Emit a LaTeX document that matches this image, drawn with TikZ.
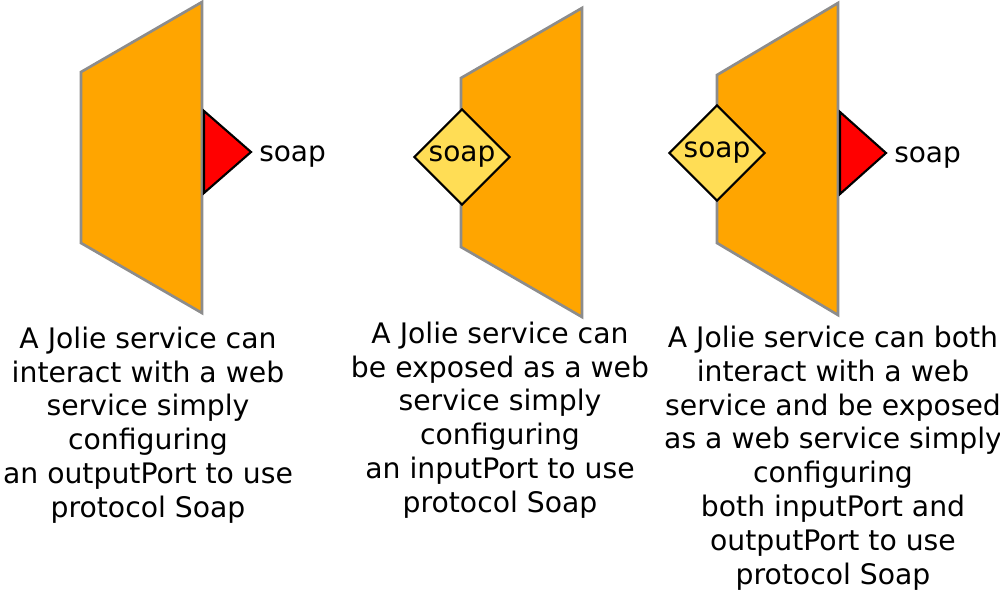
\documentclass[tikz,border=0pt]{standalone}
\usepackage{fontspec}
\setmainfont{DejaVu Sans}
\usetikzlibrary{shapes.geometric}
\definecolor{svc}{HTML}{FFA500}
\definecolor{svcline}{HTML}{8C8C8C}
\definecolor{inport}{HTML}{FFDD55}
\definecolor{outport}{HTML}{FF0000}
\begin{document}
\begin{tikzpicture}[x=0.75pt,y=-0.75pt,
  service/.style={fill=svc,draw=svcline,line width=2pt,line join=miter},
  outportshape/.style={fill=outport,draw=black,line width=1.6pt,line join=miter},
  inportshape/.style={diamond,aspect=1,fill=inport,draw=black,line width=1.6pt,
    inner sep=0pt,minimum width=72pt,minimum height=72pt,
    font=\fontsize{21}{24}\selectfont},
  portlabel/.style={anchor=base west,inner sep=0pt,font=\fontsize{21}{24}\selectfont},
  caption/.style={align=center,inner sep=0pt,font=\fontsize{21.2}{25.4}\selectfont}]
\useasboundingbox (0,0) rectangle (1000,593);

% service 1
\path[service] (81,72) -- (202,2) -- (202,313) -- (81,243) -- cycle;
\path[outportshape] (204,111) -- (251,152) -- (204,193) -- cycle;
\node[portlabel] (l1) at (259,161) {soap};

% service 2
\path[service] (461,78) -- (582,8) -- (582,317) -- (461,247) -- cycle;
\node[inportshape] (d2) at (462,157) {\raisebox{-2pt}{soap}};

% service 3
\path[service] (717,75) -- (838,3) -- (838,315) -- (717,243) -- cycle;
\node[inportshape] (d3) at (717,153) {\raisebox{-2pt}{soap}};
\path[outportshape] (840,112) -- (886,153) -- (840,194) -- cycle;
\node[portlabel] (l3) at (894,162) {soap};

% captions
\node[caption] (c1) at (148,425) {A Jolie service can\\interact with a web\\service simply\\configuring\\an outputPort to use\\protocol Soap};
\node[caption] (c2) at (500,420) {A Jolie service can\\be exposed as a web\\service simply\\configuring\\an inputPort to use\\protocol Soap};
\node[caption] (c3) at (833,458) {A Jolie service can both\\interact with a web\\service and be exposed\\as a web service simply\\configuring\\both inputPort and\\outputPort to use\\protocol Soap};
\end{tikzpicture}
\end{document}
